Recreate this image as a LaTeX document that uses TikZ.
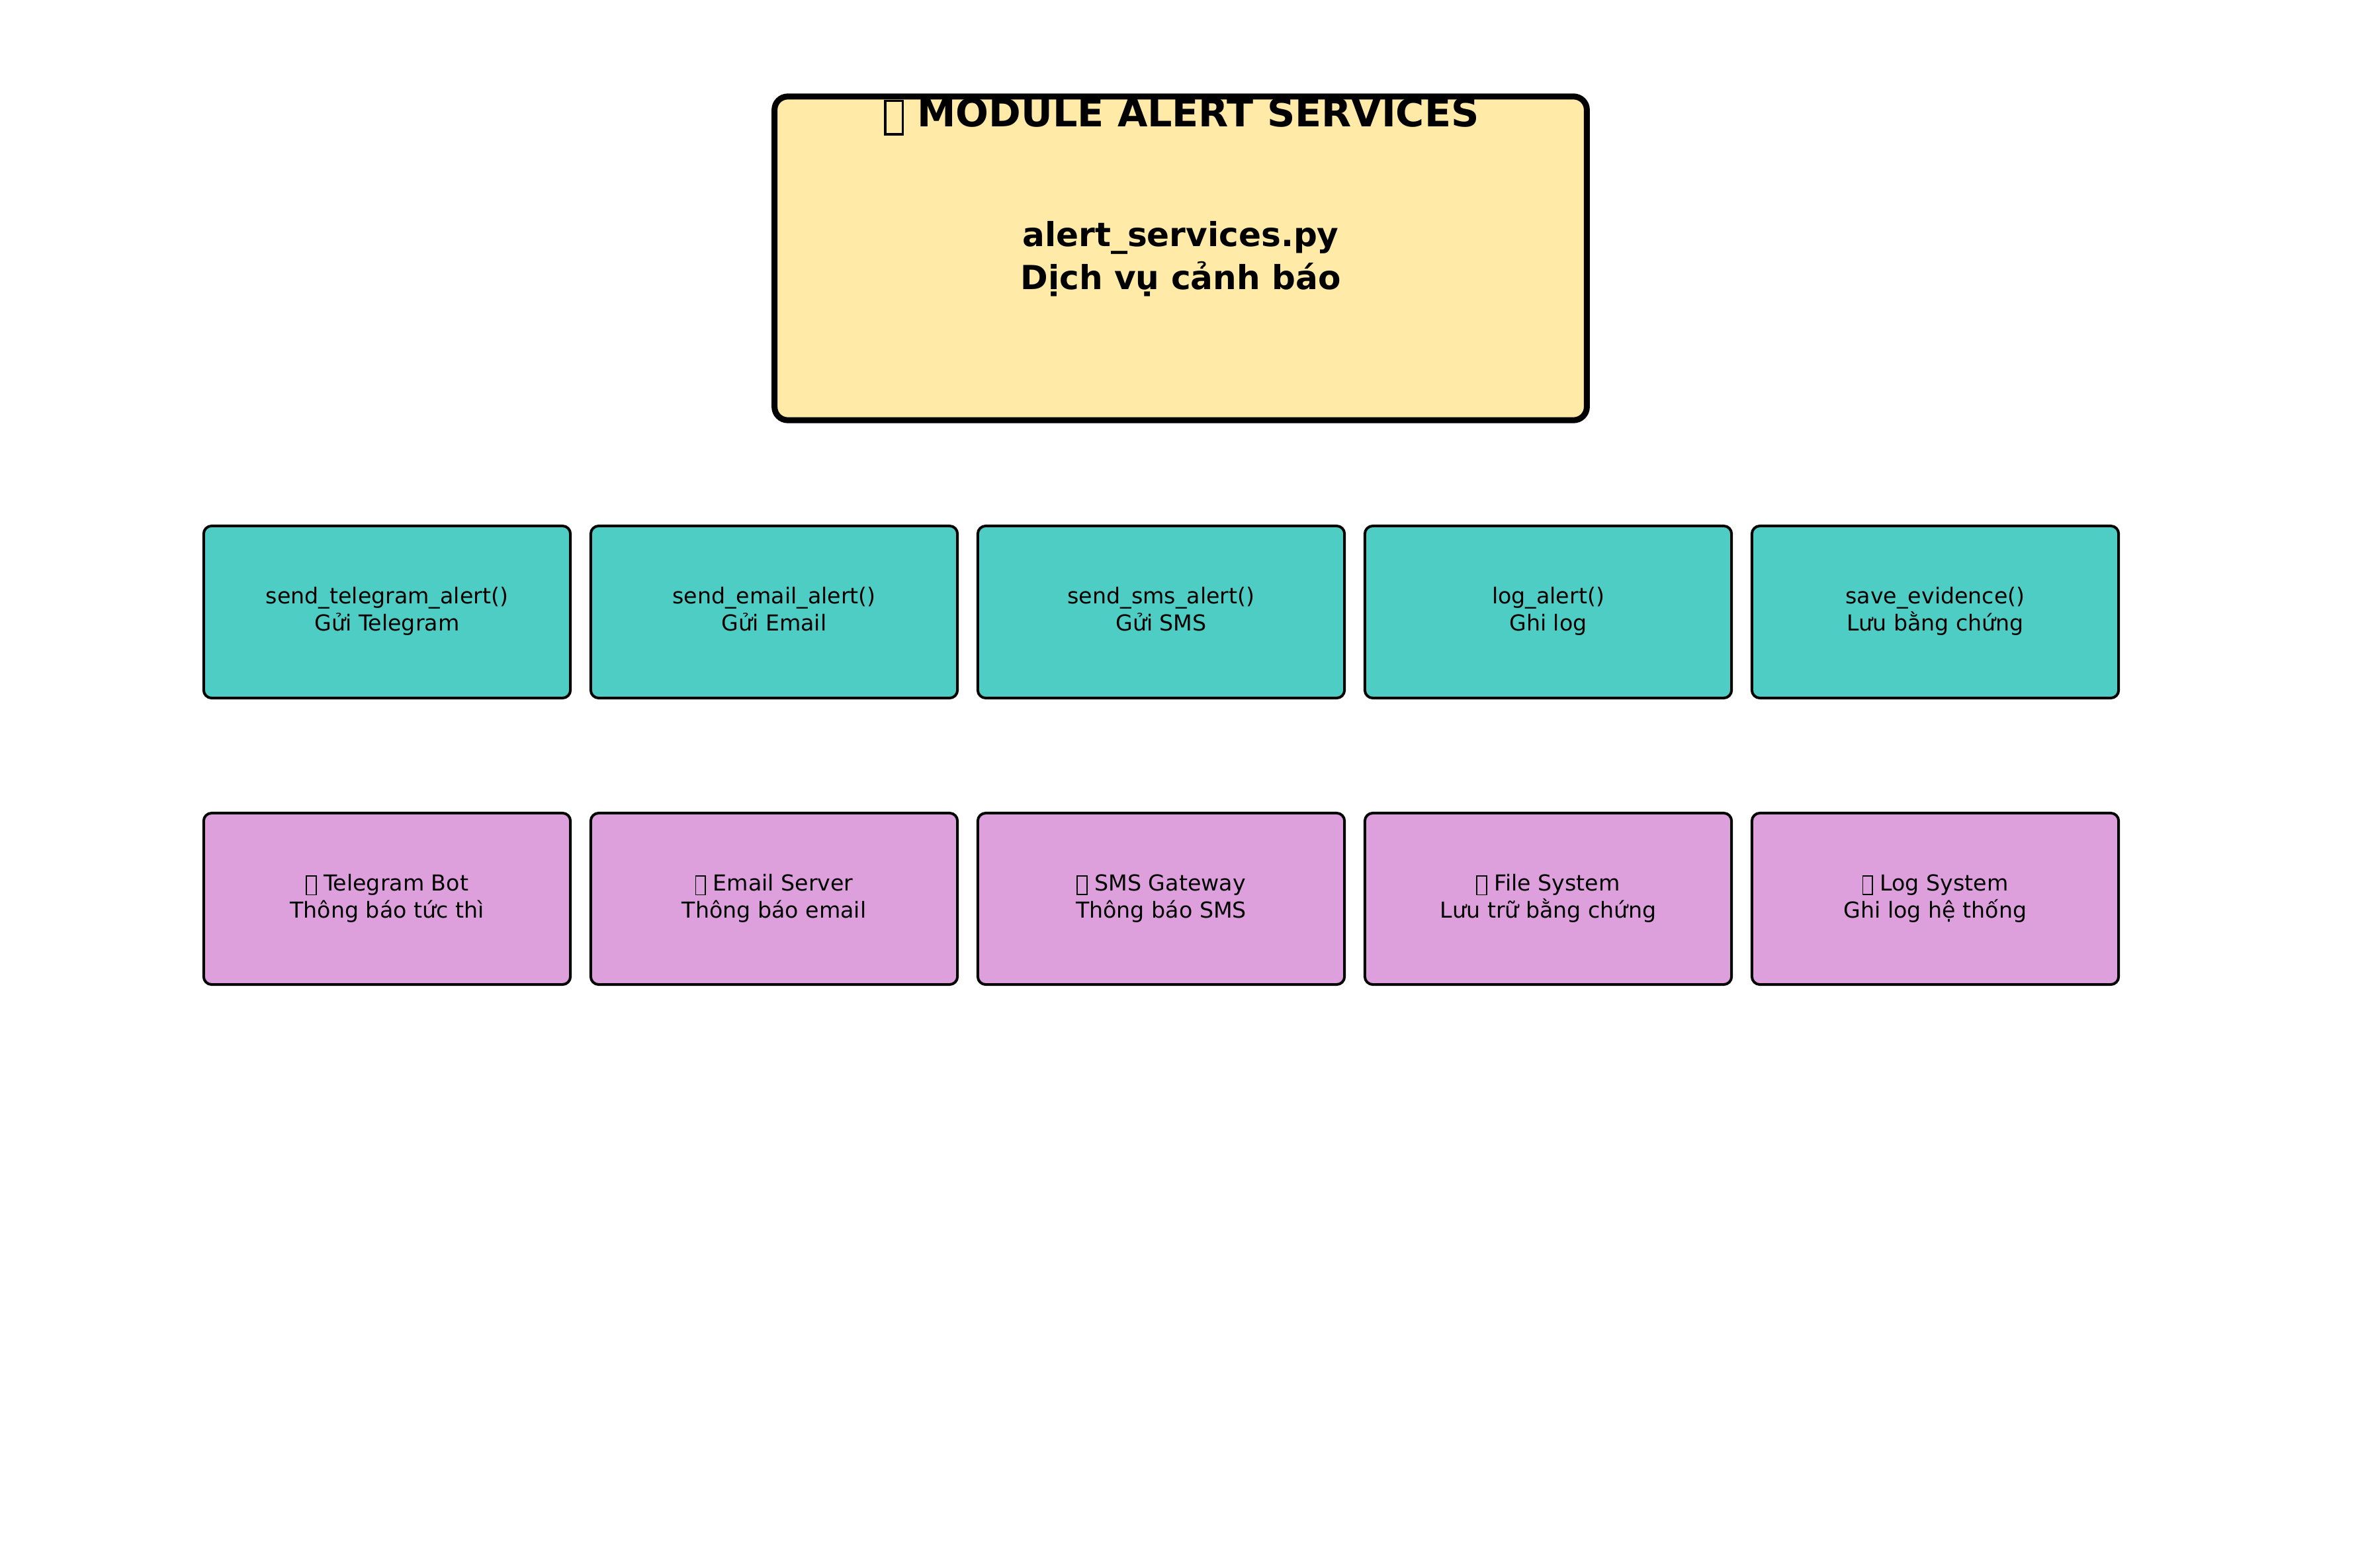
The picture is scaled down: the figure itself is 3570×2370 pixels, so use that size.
\documentclass[tikz,border=0pt]{standalone}
\usepackage{fontspec}
\setmainfont{DejaVu Sans}
% placeholder glyph box (missing-glyph rectangle)
\newcommand\tofubox{\raisebox{-0.16em}{\setlength\fboxsep{0pt}\setlength\fboxrule{0.055em}\fbox{\rule{0pt}{0.8em}\hspace{0.39em}}}}
\definecolor{modfill}{HTML}{FFEAA7}
\definecolor{funcfill}{HTML}{4ECDC4}
\definecolor{extfill}{HTML}{DDA0DD}
\begin{document}
\begin{tikzpicture}[x=0.01cm,y=-0.01cm,
  modulebox/.style={draw=black, line width=0.09cm, rounded corners=0.2cm, fill=modfill,
    minimum width=12.27cm, minimum height=4.89cm, inner sep=0pt, align=center,
    text depth=0.25em, font=\bfseries\fontsize{14.25}{18.4}\selectfont},
  funcbox/.style={draw=black, line width=0.04cm, rounded corners=0.12cm, fill=funcfill,
    minimum width=5.54cm, minimum height=2.6cm, inner sep=0pt, align=center,
    text depth=0.24em, font=\fontsize{9.45}{11.7}\selectfont},
  extbox/.style={funcbox, fill=extfill, minimum height=2.59cm},
  titletext/.style={anchor=base, inner sep=0pt, font=\bfseries\fontsize{16.7}{19}\selectfont}
]
\fill[white] (0,0) rectangle (3570,2370);
\useasboundingbox (0,0) rectangle (3570,2370);

% module header
\node[modulebox] (module) at (1784.5,390.5) {alert\_services.py\\Dịch vụ cảnh báo};
\node[titletext] (title) at (1786,192) {\tofubox{} MODULE ALERT SERVICES};

% functions
\node[funcbox] (f1) at (585,925)  {send\_telegram\_alert()\\Gửi Telegram};
\node[funcbox] (f2) at (1170,925) {send\_email\_alert()\\Gửi Email};
\node[funcbox] (f3) at (1755,925) {send\_sms\_alert()\\Gửi SMS};
\node[funcbox] (f4) at (2340,925) {log\_alert()\\Ghi log};
\node[funcbox] (f5) at (2925,925) {save\_evidence()\\Lưu bằng chứng};

% external targets
\node[extbox] (e1) at (585,1358.5)  {\tofubox{} Telegram Bot\\Thông báo tức thì};
\node[extbox] (e2) at (1170,1358.5) {\tofubox{} Email Server\\Thông báo email};
\node[extbox] (e3) at (1755,1358.5) {\tofubox{} SMS Gateway\\Thông báo SMS};
\node[extbox] (e4) at (2340,1358.5) {\tofubox{} File System\\Lưu trữ bằng chứng};
\node[extbox] (e5) at (2925,1358.5) {\tofubox{} Log System\\Ghi log hệ thống};
\end{tikzpicture}
\end{document}
